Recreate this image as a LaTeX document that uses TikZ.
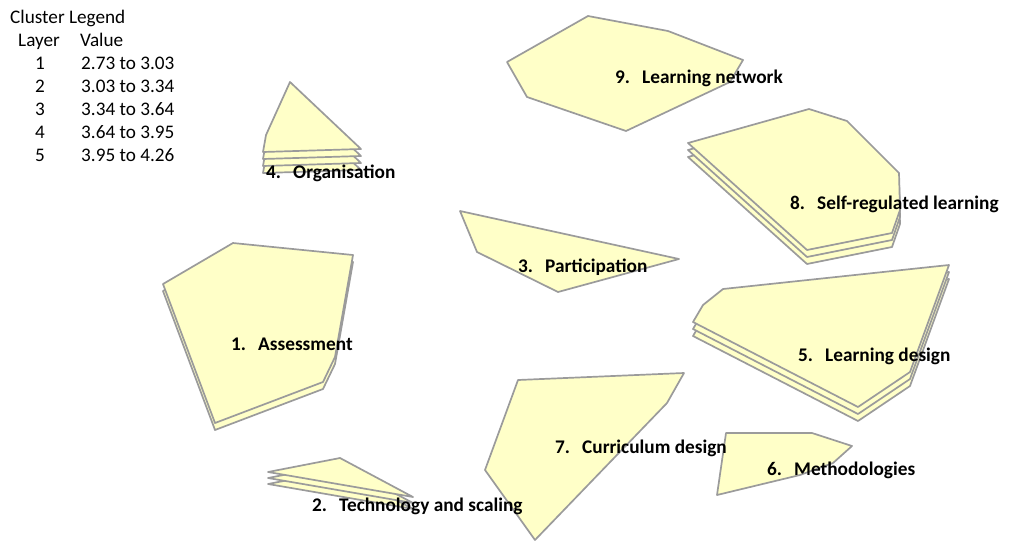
\documentclass[tikz,border=0pt]{standalone}
\usepackage{fontspec}
\setmainfont{Carlito}
\definecolor{clfill}{RGB}{255,255,200}
\definecolor{clline}{RGB}{155,155,155}
\tikzset{
  clus/.style={draw=clline, fill=clfill, line width=1.7pt, line join=round},
  lab/.style={anchor=base west, inner sep=0pt, font=\fontsize{19.3}{22}\selectfont\bfseries},
  leg/.style={anchor=base west, inner sep=0pt, font=\fontsize{19.2}{22}\selectfont},
  legc/.style={anchor=base, inner sep=0pt, font=\fontsize{19.2}{22}\selectfont}
}
\newcommand{\numlab}[2]{\makebox[27pt][l]{#1}#2}
\begin{document}
\begin{tikzpicture}[x=1pt,y=-1pt]
\useasboundingbox (0,0) rectangle (1011,541);
% 9. Learning network (1 layer)
\draw[clus] (507,62) -- (588,16) -- (668,31) -- (743,60) -- (730,82) -- (626,131) -- (527,97) -- cycle;
% 4. Organisation (4 layers)
\foreach \k in {3,2,1,0}{
  \draw[clus, yshift={-7pt*\k}] (290,82) -- (361,149) -- (263,152) -- (266,135) -- cycle;
}
% 8. Self-regulated learning (3 layers)
\foreach \k in {2,1,0}{
  \draw[clus, yshift={-7pt*\k}] (688,143) -- (809,109) -- (847,121) -- (899,173) -- (900,210) -- (892,233) -- (807,250) -- cycle;
}
% 3. Participation
\draw[clus] (460,211) -- (679,259) -- (558,292) -- (477,252) -- cycle;
% 1. Assessment (2 layers)
\foreach \k in {1,0}{
  \draw[clus, yshift={-7pt*\k}] (163,284) -- (233,243) -- (353,255) -- (335,357) -- (323,382) -- (215,423) -- cycle;
}
% 5. Learning design (3 layers)
\foreach \k in {2,1,0}{
  \draw[clus, yshift={-7pt*\k}] (723,289) -- (949,265) -- (910,372) -- (858,407) -- (693,322) -- (703,305) -- cycle;
}
% 7. Curriculum design
\draw[clus] (518,380) -- (684,373) -- (667,403) -- (535,540) -- (485,470) -- cycle;
% 6. Methodologies
\draw[clus] (726,433) -- (812,433) -- (852,446) -- (833,463) -- (800,475) -- (717,495) -- cycle;
% 2. Technology and scaling (3 layers)
\foreach \k in {2,1,0}{
  \draw[clus, yshift={-6pt*\k}] (268,472) -- (340,458) -- (413,497) -- cycle;
}
% labels
\node[lab] (l9) at (615,83) {\numlab{9.}{Learning network}};
\node[lab] (l4) at (266,178) {\numlab{4.}{Organisation}};
\node[lab] (l8) at (790,209) {\numlab{8.}{Self-regulated learning}};
\node[lab] (l3) at (518,272) {\numlab{3.}{Participation}};
\node[lab] (l1) at (231,350) {\numlab{1.}{Assessment}};
\node[lab] (l5) at (798,361) {\numlab{5.}{Learning design}};
\node[lab] (l7) at (555,453) {\numlab{7.}{Curriculum design}};
\node[lab] (l6) at (767,475) {\numlab{6.}{Methodologies}};
\node[lab] (l2) at (312,511) {\numlab{2.}{Technology and scaling}};
% legend
\node[leg] (lt) at (10,23) {Cluster Legend};
\node[leg] (lh1) at (18,46) {Layer};
\node[leg] (lh2) at (80,46) {Value};
\node[legc] (n1) at (40,69) {1};
\node[legc] (n2) at (40,92) {2};
\node[legc] (n3) at (40,115) {3};
\node[legc] (n4) at (40,138) {4};
\node[legc] (n5) at (40,161) {5};
\node[leg] (v1) at (81,69) {2.73 to 3.03};
\node[leg] (v2) at (81,92) {3.03 to 3.34};
\node[leg] (v3) at (81,115) {3.34 to 3.64};
\node[leg] (v4) at (81,138) {3.64 to 3.95};
\node[leg] (v5) at (81,161) {3.95 to 4.26};
\end{tikzpicture}
\end{document}
